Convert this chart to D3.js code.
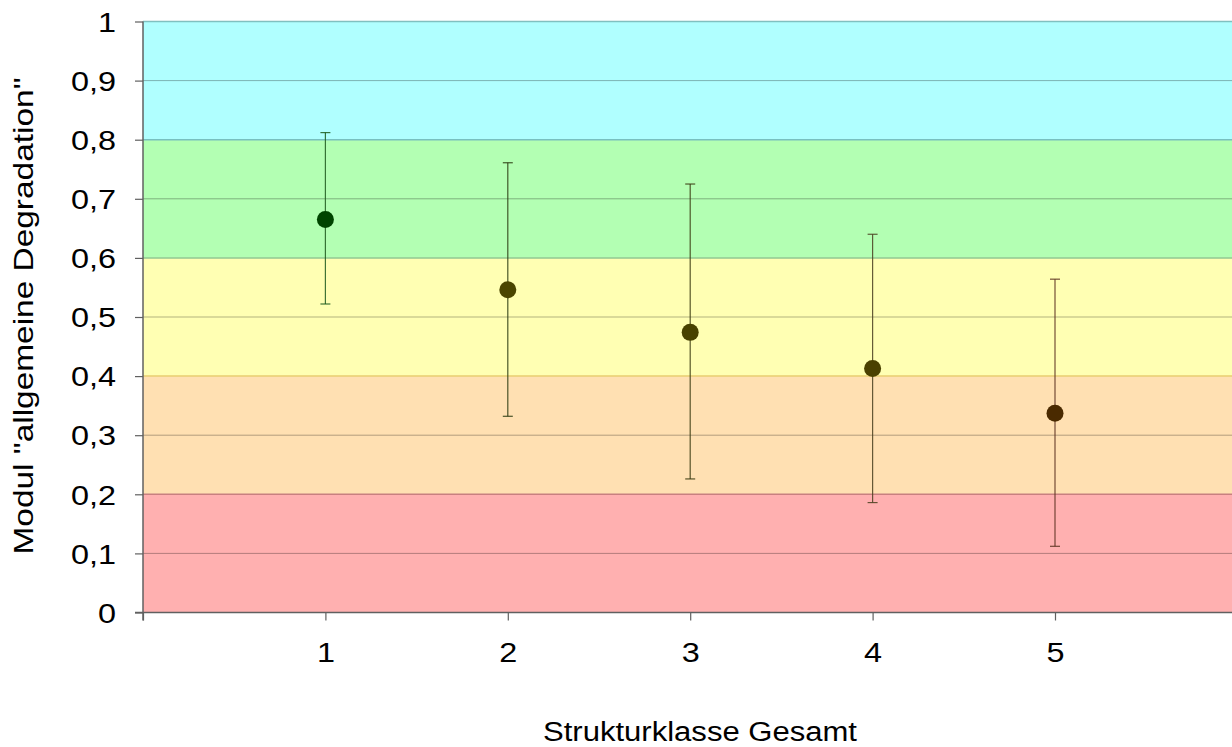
<!DOCTYPE html>
<html><head><meta charset="utf-8">
<script src="https://cdn.jsdelivr.net/npm/d3@7/dist/d3.min.js"></script>
<style>body{margin:0;background:#fff}svg{display:block}text{font-family:"Liberation Sans",Arial,sans-serif;fill:#000}</style>
</head><body>
<script>
const categories = [1, 2, 3, 4, 5];
const means = [0.665, 0.546, 0.474, 0.413, 0.337];
const upper = [0.812, 0.761, 0.725, 0.640, 0.564];
const lower = [0.522, 0.332, 0.226, 0.186, 0.112];
const pointColors = ["#004400", "#4a4500", "#484200", "#4a4000", "#4a2a00"];
const barColors = ["#1e5a1e", "#2a3a10", "#3a3a10", "#4a4020", "#5a3020"];
const yTicks = [0, 0.1, 0.2, 0.3, 0.4, 0.5, 0.6, 0.7, 0.8, 0.9, 1];
const xTicks = [0, 1, 2, 3, 4, 5];
const bands = [
  {from: 0.0, to: 0.2, fill: "#ffb0b0", edge: "#c88080"},
  {from: 0.2, to: 0.4, fill: "#ffe0b2", edge: "#e8cc70"},
  {from: 0.4, to: 0.6, fill: "#ffffb3", edge: "#90c890"},
  {from: 0.6, to: 0.8, fill: "#b3ffb3", edge: "#78c0c0"},
  {from: 0.8, to: 1.0, fill: "#b0ffff", edge: "#80c0c0"}
];

const W = 1232, H = 747;
const SX = 1.2; // horizontal text stretch seen in the reference
const svg = d3.select("body").append("svg").attr("width", W).attr("height", H);
const x = d3.scaleLinear().domain([0, 6]).range([143, 143 + 6 * 182.4]);
const y = d3.scaleLinear().domain([0, 1]).range([612.5, 21.5]);

svg.selectAll("rect.band").data(bands).enter().append("rect")
  .attr("x", x(0)).attr("width", W - x(0))
  .attr("y", d => y(d.to)).attr("height", d => y(d.from) - y(d.to))
  .attr("fill", d => d.fill);
svg.selectAll("line.edge").data(bands).enter().append("line")
  .attr("x1", x(0)).attr("x2", W)
  .attr("y1", d => y(d.to)).attr("y2", d => y(d.to))
  .attr("stroke", d => d.edge).attr("stroke-width", 1.5);
const mids = yTicks.filter((t, i) => i % 2 === 1);
svg.selectAll("line.grid").data(mids).enter().append("line")
  .attr("x1", x(0)).attr("x2", W)
  .attr("y1", d => y(d)).attr("y2", d => y(d))
  .attr("stroke", "#000").attr("stroke-opacity", 0.3).attr("stroke-width", 1);

// y axis
const yAxis = d3.axisLeft(y).tickValues(yTicks).tickSize(8).tickPadding(0)
  .tickFormat(d => d === 0 || d === 1 ? String(d) : d3.format(".1f")(d).replace(".", ","));
const gy = svg.append("g").attr("transform", `translate(${x(0)},0)`).call(yAxis);
gy.attr("font-size", null).attr("font-family", null);
gy.select(".domain").attr("stroke", "#606060").attr("stroke-width", 1.5).attr("d", `M0,${y(1)}V${y(0)+8}`);
gy.selectAll(".tick line").attr("stroke", "#606060").attr("stroke-width", 1.2);
gy.selectAll(".tick text").style("font-size", "27px").attr("fill", "#000")
  .attr("x", -27 / SX).attr("dy", "0.36em").attr("transform", `scale(${SX},1)`);

// x axis
const xAxis = d3.axisBottom(x).tickValues(xTicks).tickSize(8).tickPadding(0)
  .tickFormat(d => d === 0 ? "" : String(d));
const gx = svg.append("g").attr("transform", `translate(0,${y(0)})`).call(xAxis);
gx.attr("font-size", null).attr("font-family", null);
gx.select(".domain").attr("stroke", "#606060").attr("stroke-width", 1.5).attr("d", `M${x(0)-8},0H${W}`);
gx.selectAll(".tick line").attr("stroke", "#606060").attr("stroke-width", 1.2);
gx.selectAll(".tick text").style("font-size", "27px").attr("fill", "#000")
  .attr("y", 49.5).attr("dy", null).attr("transform", `scale(${SX},1)`);

// error bars
const g = svg.append("g");
categories.forEach((c, i) => {
  const cx = x(c);
  g.append("line").attr("x1", cx).attr("x2", cx).attr("y1", y(upper[i])).attr("y2", y(lower[i]))
    .attr("stroke", barColors[i]).attr("stroke-opacity", 0.85).attr("stroke-width", 1.2);
  [upper[i], lower[i]].forEach(v => {
    g.append("line").attr("x1", cx - 5).attr("x2", cx + 5).attr("y1", y(v)).attr("y2", y(v))
      .attr("stroke", barColors[i]).attr("stroke-opacity", 0.85).attr("stroke-width", 1.2);
  });
});
g.selectAll("circle").data(categories).enter().append("circle")
  .attr("cx", d => x(d)).attr("cy", (d, i) => y(means[i])).attr("r", 8.5)
  .attr("fill", (d, i) => pointColors[i]);

// titles
svg.append("text").attr("x", 700).attr("y", 741).attr("text-anchor", "middle")
  .attr("textLength", 314).attr("lengthAdjust", "spacingAndGlyphs")
  .style("font-size", "27px").text("Strukturklasse Gesamt");
svg.append("text").attr("transform", `translate(33,316) rotate(-90)`).attr("text-anchor", "middle")
  .attr("textLength", 477).attr("lengthAdjust", "spacingAndGlyphs")
  .style("font-size", "28px").text('Modul "allgemeine Degradation"');
</script>
</body></html>
